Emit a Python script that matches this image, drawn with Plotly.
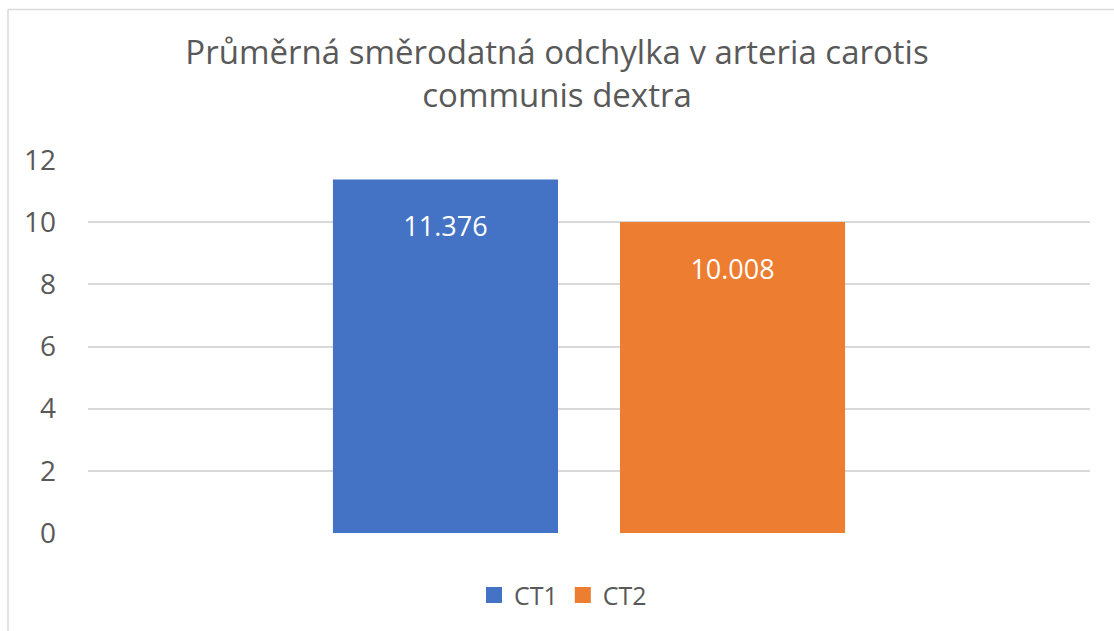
import plotly.graph_objects as go

categories = [""]
series_names = ["CT1", "CT2"]
ct1_values = [11.376]
ct2_values = [10.008]
colors = ["#4472C4", "#ED7D31"]
y_ticks = [0, 2, 4, 6, 8, 10, 12]

W, H = 1114, 631
ml, mr, mt, mb = 88, 24, 160, 98
pw, ph = W - ml - mr, H - mt - mb

fig = go.Figure()
for name, vals, col in zip(series_names, [ct1_values, ct2_values], colors):
    fig.add_trace(go.Bar(
        x=categories, y=vals, name=name, marker_color=col, marker_line_width=0,
        text=[f"{v:.3f}" for v in vals],
        texttemplate="<span style='font-size:18px'>\u00a0</span><br>%{text}",
        textposition="inside", insidetextanchor="end",
        textfont=dict(color="white", size=27, family="Open Sans"),
        showlegend=False,
    ))
# legend-only entries with larger square swatches
for name, col in zip(series_names, colors):
    fig.add_trace(go.Scatter(
        x=[None], y=[None], mode="markers", name=name,
        marker=dict(symbol="square", size=18, color=col),
    ))

fig.update_layout(
    width=W, height=H,
    margin=dict(l=ml, r=mr, t=mt, b=mb),
    paper_bgcolor="white", plot_bgcolor="white",
    barmode="group", bargap=0.427, bargroupgap=0.216,
    font=dict(family="Open Sans", color="#595959"),
    title=dict(text="Průměrná směrodatná odchylka v arteria carotis<br>communis dextra",
               x=0.5, xanchor="center", y=0.898, yanchor="middle",
               font=dict(size=33, color="#595959", family="Open Sans")),
    showlegend=True,
    legend=dict(orientation="h", x=(563 - ml) / pw, xanchor="center", y=-0.167, yanchor="middle",
                font=dict(size=25, color="#595959"), itemwidth=30, traceorder="normal"),
)
fig.update_xaxes(showgrid=False, showline=False, zeroline=False, showticklabels=False)
fig.update_yaxes(range=[0, 12], tickvals=y_ticks, showgrid=True, gridcolor="#D9D9D9",
                 gridwidth=1.5, zeroline=False, showline=False,
                 tickfont=dict(size=28, color="#595959"), ticks="", ticklabelstandoff=31)

# chart border (top and left edges)
fig.add_shape(type="line", xref="paper", yref="paper",
              x0=(8 - ml) / pw, x1=(W - ml) / pw, y0=(H - mb - 9.5) / ph, y1=(H - mb - 9.5) / ph,
              line=dict(color="#D9D9D9", width=1.5))
fig.add_shape(type="line", xref="paper", yref="paper",
              x0=(8 - ml) / pw, x1=(8 - ml) / pw, y0=(H - mb - 9.5) / ph, y1=(H - mb - H) / ph,
              line=dict(color="#D9D9D9", width=1.5))

fig.write_html("out.html", config={"displayModeBar": False},
               post_script="document.body.style.margin='0';")
